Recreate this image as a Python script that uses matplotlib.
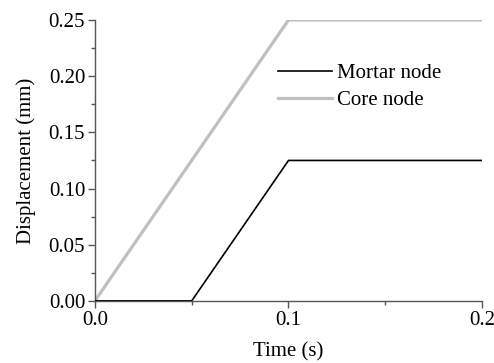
import matplotlib.pyplot as plt
from matplotlib.ticker import MultipleLocator

plt.rcParams['font.family'] = ['Liberation Serif', 'DejaVu Serif']
plt.rcParams['mathtext.fontset'] = 'stix'

# loading history (time in s, displacement in mm)
mortar_t = [0.0, 0.05, 0.1, 0.2]
mortar_d = [0.0, 0.0, 0.125, 0.125]
core_t = [0.0, 0.1, 0.2]
core_d = [0.0, 0.25, 0.25]

fig = plt.figure(figsize=(4.94, 3.63), dpi=100)
ax = fig.add_axes([0.192, 0.171, 0.784, 0.774])

ax.plot(mortar_t, mortar_d, color='black', lw=1.2, label='Mortar node', zorder=3)
ax.plot(core_t, core_d, color='#c0c0c0', lw=2.3, label='Core node', zorder=2)

ax.set_xlim(0, 0.2)
ax.set_ylim(0, 0.25)
ax.xaxis.set_major_locator(MultipleLocator(0.1))
ax.xaxis.set_minor_locator(MultipleLocator(0.05))
ax.yaxis.set_major_locator(MultipleLocator(0.05))
ax.yaxis.set_minor_locator(MultipleLocator(0.025))
ax.xaxis.set_major_formatter(plt.FormatStrFormatter('%.1f'))
ax.yaxis.set_major_formatter(plt.FormatStrFormatter('%.2f'))

for side in ['top', 'right']:
    ax.spines[side].set_visible(False)
for side in ['left', 'bottom']:
    ax.spines[side].set_color('#555555')
    ax.spines[side].set_linewidth(1.0)

ax.tick_params(which='both', direction='out', colors='#555555', labelcolor='black',
               labelsize=15, width=1.0, pad=2)
ax.tick_params(which='major', length=5)
ax.tick_params(which='minor', length=3)

ax.set_xlabel('Time (s)', fontsize=15, labelpad=9)
ax.set_ylabel('Displacement (mm)', fontsize=15, labelpad=9)

ax.legend(loc='upper left', bbox_to_anchor=(0.472, 0.845), frameon=False, fontsize=15,
          handlelength=2.6, handletextpad=0.25, labelspacing=0.35,
          borderpad=0, borderaxespad=0)

fig.savefig('out.png', dpi=100)
